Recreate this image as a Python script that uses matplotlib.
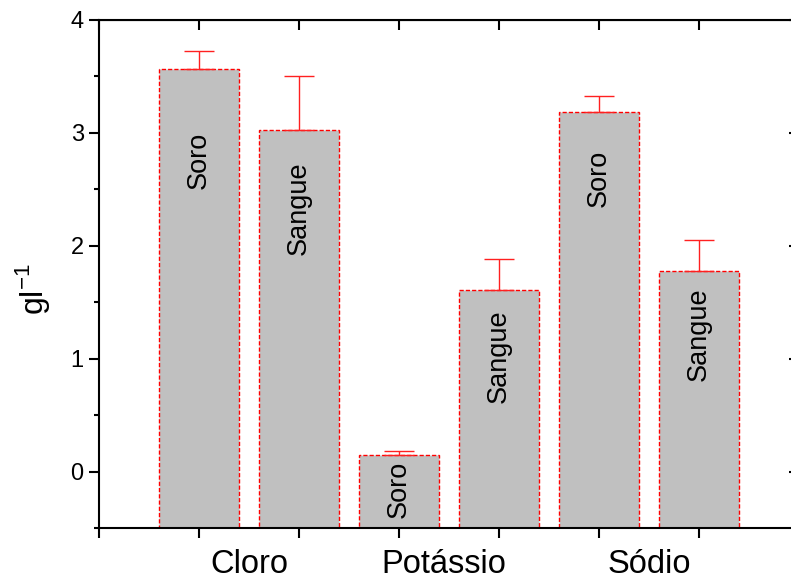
import matplotlib
matplotlib.use("Agg")
import matplotlib.pyplot as plt
from matplotlib.ticker import MultipleLocator

plt.rcParams['font.family'] = ['Liberation Sans', 'DejaVu Sans']

# data
groups = ['Cloro', 'Potássio', 'Sódio']
bar_labels = ['Soro', 'Sangue', 'Soro', 'Sangue', 'Soro', 'Sangue']
values = [3.565, 3.024, 0.151, 1.605, 3.184, 1.774]
errors = [0.16, 0.48, 0.035, 0.28, 0.14, 0.28]
# where the rotated labels sit (centre, in y units)
label_y = [2.76, 2.33, -0.16, 1.02, 2.60, 1.215]

ymin, ymax = -0.5, 4.0
xpos = [1, 2, 3, 4, 5, 6]
group_x = [1.5, 3.45, 5.5]

fig = plt.figure(figsize=(7.91, 5.81), dpi=100)
ax = fig.add_axes([99 / 791, 53 / 581, 700 / 791, 508 / 581])

# bars start at the bottom of the axis, like in Origin
ax.bar(xpos, [v - ymin for v in values], width=0.8, bottom=ymin,
       color='#c0c0c0', edgecolor='#ff0000', linestyle=(0, (3, 1.5)), linewidth=1.0,
       zorder=2)
ax.errorbar(xpos, values, yerr=[[0] * len(errors), errors], fmt='none',
            ecolor='#ff2020', elinewidth=1.0, capsize=11, capthick=1.0, zorder=3)

for x, y, s in zip(xpos, label_y, bar_labels):
    ax.text(x, y, s, rotation=90, ha='center', va='center', fontsize=19.5, zorder=4)

ax.set_xlim(0, 7)
ax.set_ylim(ymin, ymax)

ax.xaxis.set_major_locator(MultipleLocator(1))
ax.set_xticklabels([])
ax.yaxis.set_minor_locator(MultipleLocator(0.5))
ax.set_yticks([0, 1, 2, 3, 4])

for sp in ax.spines.values():
    sp.set_linewidth(1.5)

ax.tick_params(axis='x', which='major', bottom=True, top=False, direction='out',
               length=7, width=1.5)
ax.tick_params(axis='y', which='major', left=True, right=False, direction='out',
               length=7, width=1.5, labelsize=17, pad=4)
ax.tick_params(axis='y', which='minor', left=True, right=False, direction='out',
               length=3.5, width=1.5)

# inward ticks on the top and right
top = ax.secondary_xaxis('top')
top.xaxis.set_major_locator(MultipleLocator(1))
top.tick_params(direction='in', length=7, width=1.5, labeltop=False)
right = ax.secondary_yaxis('right')
right.yaxis.set_major_locator(MultipleLocator(1))
right.tick_params(direction='in', length=7, width=1.5, labelright=False)

for x, s in zip(group_x, groups):
    ax.text(x, -0.089, s, transform=ax.get_xaxis_transform(), ha='center',
            va='baseline', fontsize=23.5)

ax.set_ylabel(r'gl$^{\mathregular{-1}}$', fontsize=23)
ax.yaxis.set_label_coords(-0.067, 0.47)

fig.savefig('out.png', dpi=100)
